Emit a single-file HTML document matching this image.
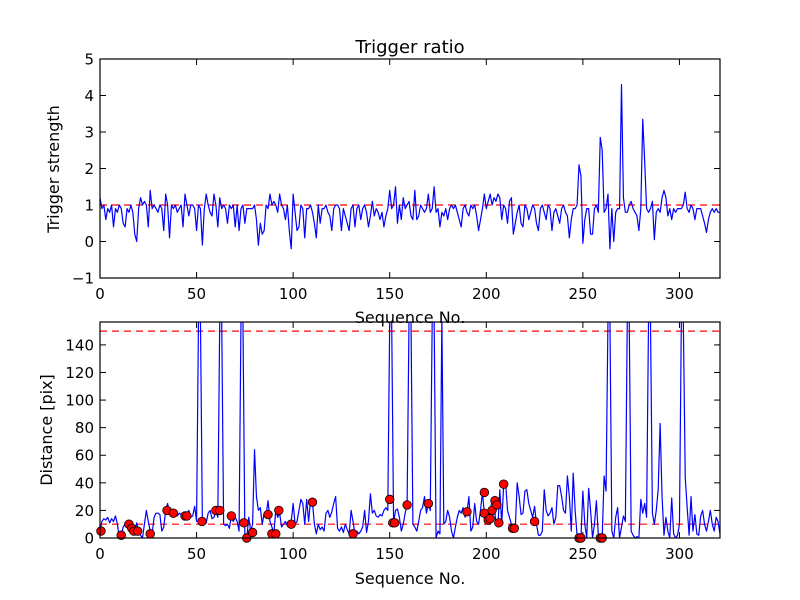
<!DOCTYPE html>
<html><head><meta charset="utf-8"><style>
body{margin:0;background:#fff}
svg{display:block;font-family:"DejaVu Sans","Liberation Sans",sans-serif}
</style></head><body>
<svg id="c" width="800" height="600" xmlns="http://www.w3.org/2000/svg"></svg>
<script>
const trigger=[
1.2,0.9,1.0,0.6,0.9,0.8,1.0,0.4,0.9,0.8,
1.0,0.9,0.5,0.4,0.9,0.8,1.0,0.8,0.2,0.0,
0.9,1.2,1.0,1.1,1.0,0.4,1.4,0.9,1.0,0.9,
0.8,1.0,0.9,0.3,1.3,1.0,0.1,1.0,0.9,1.0,
0.8,0.9,1.0,0.4,1.3,1.0,0.7,1.0,1.0,0.9,
0.3,1.0,0.9,-0.1,0.9,1.3,1.0,0.8,0.7,1.3,
1.0,0.4,1.2,0.9,1.0,0.9,0.5,1.0,0.9,1.0,
0.4,1.0,0.3,0.9,1.0,0.5,0.9,0.9,0.9,0.9,
1.0,0.6,-0.1,0.5,0.2,0.3,1.0,0.9,1.3,1.0,
1.1,1.0,0.8,1.3,1.0,0.9,0.6,1.0,0.3,-0.2,
1.3,0.8,0.3,0.4,1.0,0.9,0.1,0.9,0.9,1.0,
0.8,0.5,0.1,1.0,0.5,0.9,0.9,1.0,0.8,0.7,
0.3,0.9,1.0,1.0,0.9,0.3,0.9,0.7,0.5,0.3,
0.9,1.0,0.4,0.9,1.0,0.6,0.9,1.0,0.8,0.4,
0.7,1.1,0.7,0.9,0.8,0.6,0.8,0.4,0.7,0.9,
1.4,0.9,1.0,1.5,0.5,1.0,0.6,1.2,0.9,1.0,
1.1,0.7,0.6,1.4,0.6,0.7,1.0,0.9,0.8,0.9,
1.3,0.8,0.9,1.5,0.8,0.9,0.4,0.8,0.7,0.9,
0.6,0.9,1.0,0.9,1.0,0.8,0.6,0.4,0.9,1.0,
0.8,0.7,1.0,0.9,1.0,0.7,0.3,0.6,0.9,1.3,
0.9,1.1,1.3,1.0,1.2,1.1,1.3,1.2,0.6,1.0,
0.9,0.5,1.1,1.2,0.2,0.5,0.8,1.0,0.5,0.4,
1.0,0.9,0.6,0.8,1.0,0.9,0.5,0.3,0.9,1.0,
0.8,0.6,1.0,0.9,0.3,0.8,0.9,0.7,0.5,0.9,
1.0,0.8,0.7,0.1,0.6,0.9,0.9,1.0,2.1,1.8,-0.05,0.6,0.9,0.9,0.2,0.2,
0.9,1.0,0.8,2.85,2.5,0.8,0.9,1.3,-0.2,0.9,0.0,0.8,0.9,0.9,4.3,1.2,0.8,0.8,1.0,1.1,
0.9,0.8,0.7,0.3,0.9,3.35,2.2,0.9,0.8,0.9,1.1,0.05,0.8,0.9,0.8,1.2,1.4,1.2,0.7,0.9,
0.6,0.9,0.8,0.9,0.9,0.9,1.0,1.35,0.9,0.8,1.0,0.9,0.6,0.9,0.9,0.9,0.7,0.5,0.25,0.6,
0.8,0.9,0.8,0.9,0.8,0.8];
const dist=[
5,12,14,13,15,11,14,12,16,10,
0,2,8,10,12,9,7,5,5,11,
5,2,0,10,20,12,5,3,15,18,
18,17,5,8,20,25,18,20,15,16,
16,18,17,15,16,17,20,15,16,23,
12,300,300,12,10,11,18,20,14,15,
20,15,300,300,10,9,10,7,16,12,
15,12,5,300,300,3,0,15,5,10,
64,30,20,22,10,18,17,27,12,8,
3,20,15,18,8,10,12,9,10,12,
25,10,12,20,28,25,10,28,12,27,
26,10,3,10,6,8,5,18,20,15,
19,25,30,7,5,8,4,10,6,3,
20,12,3,5,3,5,8,20,4,12,
32,18,20,16,15,17,16,20,22,20,
300,300,11,20,21,15,5,10,18,24,
300,300,10,8,5,12,20,22,30,18,
25,20,300,300,0,5,3,300,10,12,
20,15,5,0,8,15,20,18,22,15,
19,30,5,8,25,12,10,20,33,18,
13,14,20,27,24,11,8,35,10,39,
40,20,15,10,5,7,40,30,17,18,
34,35,25,20,15,23,10,2,2,5,
35,20,16,18,22,10,15,38,38,30,
20,18,45,30,5,47,20,2,0,0,
34,10,0,36,20,0,10,27,2,0,
0,45,34,300,300,5,0,15,22,0,
8,16,12,300,300,5,2,0,1,0,
28,18,25,15,300,300,18,10,20,35,
83,30,2,15,5,0,29,3,0,2,
10,300,300,44,22,2,30,5,17,3,
2,16,20,10,5,12,20,10,5,15,12,3];
const dotIdx=[0.5,11,15,16.5,17.5,19.5,26,34.7,38,44,45,52.8,60,62,68,74.5,76,79,87,89,91,92.6,99,110,131,150,151.6,152.6,159,170,190,199,199,201,202,203,204.5,205.5,206.5,209,213.6,214.5,225,248,249,259,260];
const dotVal=[5,2,10,7,5,5,3,20,18,16,16,12,20,20,16,11,0,4,17,3,3,20,10,26,3,28,11,11,24,25,19,33,18,13,14,20,27,24,11,39,7,7,12,0,0,0,0];
const xTicks=[0,50,100,150,200,250,300];
const topYTicks=[-1,0,1,2,3,4,5];
const botYTicks=[0,20,40,60,80,100,120,140];
const topRef=[1];
const botRef=[10,150];

const NS="http://www.w3.org/2000/svg";
const svg=document.getElementById('c');
function el(t,a,p){const e=document.createElementNS(NS,t);for(const k in a)e.setAttribute(k,a[k]);(p||svg).appendChild(e);return e;}
const L=100,R=720,XMAX=321;
const xs=v=>L+(R-L)*v/XMAX;
const topA={t:59,b:278,min:-1,max:5};
const botA={t:322,b:538,min:0,max:156.6};
const ys=(a,v)=>a.b-(a.b-a.t)*(v-a.min)/(a.max-a.min);

function axes(a,yt,name){
  const g=el('g',{});
  
  
  const cid='clip-'+name;
  const cp=el('clipPath',{id:cid},g);el('rect',{x:L,y:a.t,width:R-L,height:a.b-a.t},cp);
  xTicks.forEach(v=>{
    const x=xs(v);
    const t=el('line',{x1:x,x2:x,y1:a.b,y2:a.b-6,stroke:'#000'},g);
    
    
    el('line',{x1:x,x2:x,y1:a.t,y2:a.t+6,stroke:'#000'},g);
    const tx=el('text',{x:x,y:a.b+21,'font-size':15,'text-anchor':'middle'},g);tx.textContent=v;
    
    
  });
  yt.forEach(v=>{
    const y=ys(a,v);
    el('line',{x1:L,x2:L+6,y1:y,y2:y,stroke:'#000'},g);
    el('line',{x1:R,x2:R-6,y1:y,y2:y,stroke:'#000'},g);
    const tx=el('text',{x:L-6,y:y+5.5,'font-size':15,'text-anchor':'end'},g);tx.textContent=(v<0?'\u2212'+(-v):v);
    
    
  });
  return {g,cid};
}
function series(a,data,cid,name){
  const d=data.map((v,i)=>(i?'L':'M')+xs(i).toFixed(2)+','+ys(a,Math.min(v,a.max+3)).toFixed(2)).join('');
  const p=el('path',{d:d,fill:'none',stroke:'#0000ff','stroke-width':1.2,'stroke-linejoin':'round','clip-path':'url(#'+cid+')'});
  
  
}
function refs(a,vals,cid){
  vals.forEach(v=>{
    const l=el('line',{x1:L,x2:R,y1:ys(a,v),y2:ys(a,v),stroke:'#ff0000','stroke-width':1.2,'stroke-dasharray':'7,5','clip-path':'url(#'+cid+')'});
    
    
  });
}
function frame(a,name){
  const r=el('rect',{x:L,y:a.t,width:R-L,height:a.b-a.t,fill:'none',stroke:'#000','stroke-width':1.2});
  
  
}
const A1=axes(topA,topYTicks,'top-axes');
refs(topA,topRef,A1.cid);
series(topA,trigger,A1.cid,'trigger-line');
frame(topA,'top-frame');
const A2=axes(botA,botYTicks,'bottom-axes');
refs(botA,botRef,A2.cid);
series(botA,dist,A2.cid,'distance-line');
dotIdx.forEach((ix,i)=>{
  const c=el('circle',{cx:xs(ix),cy:ys(botA,dotVal[i]),r:4.3,fill:'#ff0000',stroke:'#000','stroke-width':0.8});
  
  
});
frame(botA,'bottom-frame');
function txt(s,x,y,sz,name,rot){
  const t=el('text',{x:x,y:y,'font-size':sz,'text-anchor':'middle'});
  if(rot)t.setAttribute('transform','rotate(-90 '+x+' '+y+')');
  t.textContent=s;
  
  
}
txt('Trigger ratio',410,53,18,'chart-title');
txt('Sequence No.',410,323,16,'top-x-axis-title');
txt('Trigger strength',59,169,16,'top-y-axis-title',true);
txt('Sequence No.',410,584,16,'bottom-x-axis-title');
txt('Distance [pix]',52,430,16,'bottom-y-axis-title',true);
</script>
</body></html>
